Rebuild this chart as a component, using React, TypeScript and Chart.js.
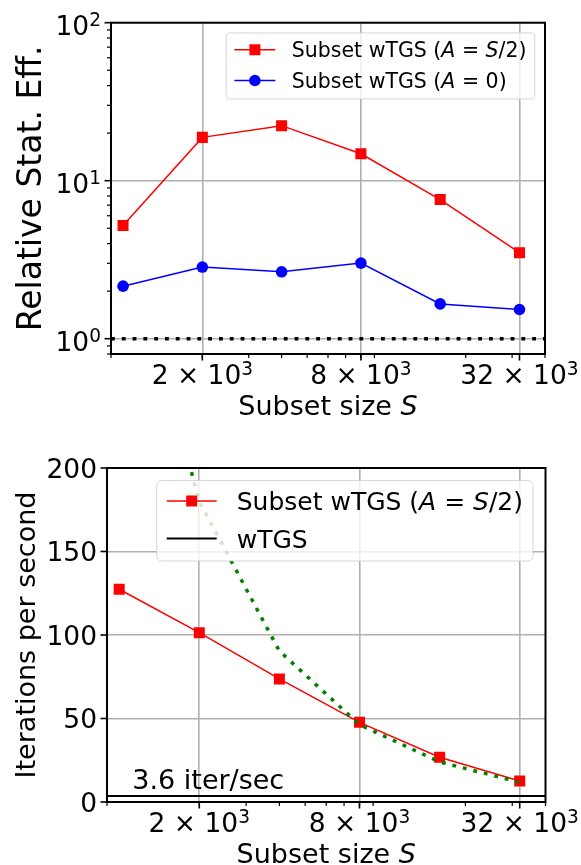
import React, { useEffect, useRef } from "react";
import { Chart, registerables } from "chart.js";

Chart.register(...registerables);

const FONT = "'DejaVu Sans', Verdana, sans-serif";

// ---------- data ----------
const SUBSET_SIZES = [1000, 2000, 4000, 8000, 16000, 32000];
const EFF_SUBSET_HALF = [5.2, 18.8, 22.3, 14.8, 7.6, 3.5];
const EFF_SUBSET_ZERO = [2.15, 2.84, 2.65, 3.01, 1.66, 1.53];
const EFF_REFERENCE = 1;
const ITERS_SUBSET_HALF = [127.4, 101.4, 73.7, 47.7, 26.8, 12.6];
const ITERS_TREND = [360, 180, 90.4, 46.3, 24, 11.8];
const ITERS_WTGS = 3.6;

const X_LIMITS = [900, 40000];
const EFF_LIMITS = [0.8, 100];
const ITER_LIMITS = [0, 200];

// tick labels as [base, superscript]
const X_TICKS = [2000, 8000, 32000];
const X_TICK_LABELS: [string, string][] = [["2 × 10", "3"], ["8 × 10", "3"], ["32 × 10", "3"]];
const X_MINOR_TICKS = [900, 2000, 3000, 4000, 5000, 6000, 7000, 8000, 9000, 20000, 30000, 40000];
const EFF_TICKS = [1, 10, 100];
const EFF_TICK_LABELS: [string, string][] = [["10", "0"], ["10", "1"], ["10", "2"]];
const EFF_MINOR_TICKS = [0.8, 0.9, 2, 3, 4, 5, 6, 7, 8, 9, 20, 30, 40, 50, 60, 70, 80, 90];
const ITER_TICKS = [0, 50, 100, 150, 200];
const ITER_TICK_LABELS: [string, string][] = [["0", ""], ["50", ""], ["100", ""], ["150", ""], ["200", ""]];

const ANNOTATION_TEXT = "3.6 iter/sec";
const ANNOTATION_POS = [1120, 7.8];

type Seg = [string, boolean];
const LABEL_HALF: Seg[] = [["Subset wTGS (", false], ["A", true], [" = ", false], ["S", true], ["/2)", false]];
const LABEL_ZERO: Seg[] = [["Subset wTGS (", false], ["A", true], [" = 0)", false]];
const LABEL_WTGS: Seg[] = [["wTGS", false]];
const X_TITLE: Seg[] = [["Subset size ", false], ["S", true]];
const Y_TITLE_TOP: Seg[] = [["Relative Stat. Eff.", false]];
const Y_TITLE_BOTTOM: Seg[] = [["Iterations per second", false]];

// ---------- styles ----------
const RED = "#ff0000";
const BLUE = "#0000ff";
const GREEN = "#008000";
const GRID = "#b0b0b0";
const TICK_FONT = 26.5;

type LegendRow = { segs: Seg[]; color: string; marker: "rect" | "circle" | null; lineWidth: number };

function segFont(size: number, italic: boolean) {
  return `${italic ? "italic " : ""}${size}px ${FONT}`;
}
function segsWidth(ctx: CanvasRenderingContext2D, segs: Seg[], size: number) {
  let w = 0;
  for (const [t, it] of segs) {
    ctx.font = segFont(size, it);
    w += ctx.measureText(t).width;
  }
  return w;
}
function drawSegs(ctx: CanvasRenderingContext2D, segs: Seg[], x: number, y: number, size: number) {
  ctx.textAlign = "left";
  ctx.textBaseline = "alphabetic";
  let cx = x;
  for (const [t, it] of segs) {
    ctx.font = segFont(size, it);
    ctx.fillText(t, cx, y);
    cx += ctx.measureText(t).width;
  }
}

function drawTickLabel(
  ctx: CanvasRenderingContext2D,
  label: [string, string],
  x: number,
  y: number,
  align: "center" | "right"
) {
  const f = TICK_FONT;
  const sf = 0.7 * f;
  ctx.textAlign = "left";
  ctx.textBaseline = "alphabetic";
  ctx.font = `${f}px ${FONT}`;
  const bw = ctx.measureText(label[0]).width;
  ctx.font = `${sf}px ${FONT}`;
  const sw = label[1] ? ctx.measureText(label[1]).width : 0;
  const total = bw + sw;
  const x0 = align === "center" ? x - total / 2 : x - total;
  ctx.font = `${f}px ${FONT}`;
  ctx.fillText(label[0], x0, y);
  if (label[1]) {
    ctx.font = `${sf}px ${FONT}`;
    ctx.fillText(label[1], x0 + bw, y - 0.35 * f);
  }
}

function drawMarker(ctx: CanvasRenderingContext2D, kind: "rect" | "circle", x: number, y: number, color: string) {
  ctx.fillStyle = color;
  if (kind === "rect") {
    ctx.fillRect(x - 5.5, y - 5.5, 11, 11);
  } else {
    ctx.beginPath();
    ctx.arc(x, y, 5.8, 0, Math.PI * 2);
    ctx.fill();
  }
}

type DecorCfg = {
  yMinor: number[];
  yMajor: number[];
  yLabels: [string, string][];
  yLabelShift: number;
  legendRows: LegendRow[];
  legendFont: number;
  yTitle: Seg[];
  yTitleFont: number;
  yTitleX: number;
  annotation?: boolean;
};

function makeDecor(cfg: DecorCfg) {
  return {
    id: "decor",
    afterDatasetsDraw(chart: any) {
      const ctx: CanvasRenderingContext2D = chart.ctx;
      const ca = chart.chartArea;
      const xs = chart.scales.x;
      const ys = chart.scales.y;
      ctx.save();
      ctx.strokeStyle = "#000";
      ctx.lineCap = "butt";
      const seg = (x0: number, y0: number, x1: number, y1: number, lw: number) => {
        ctx.lineWidth = lw;
        ctx.beginPath();
        ctx.moveTo(x0, y0);
        ctx.lineTo(x1, y1);
        ctx.stroke();
      };
      X_MINOR_TICKS.forEach((v) => {
        const p = xs.getPixelForValue(v);
        seg(p, ca.bottom, p, ca.bottom + 4, 1.2);
      });
      X_TICKS.forEach((v) => {
        const p = xs.getPixelForValue(v);
        seg(p, ca.bottom, p, ca.bottom + 6.5, 1.6);
      });
      cfg.yMinor.forEach((v) => {
        const p = ys.getPixelForValue(v);
        seg(ca.left, p, ca.left - 4, p, 1.2);
      });
      cfg.yMajor.forEach((v) => {
        const p = ys.getPixelForValue(v);
        seg(ca.left, p, ca.left - 6.5, p, 1.6);
      });
      ctx.lineWidth = 2;
      ctx.strokeRect(ca.left, ca.top, ca.right - ca.left, ca.bottom - ca.top);

      // tick labels, positioned through the chart's scales
      ctx.fillStyle = "#000";
      xs.ticks.forEach((t: any) => {
        const i = X_TICKS.indexOf(t.value);
        if (i >= 0) drawTickLabel(ctx, X_TICK_LABELS[i], xs.getPixelForValue(t.value), ca.bottom + 30.3, "center");
      });
      ys.ticks.forEach((t: any) => {
        const i = cfg.yMajor.indexOf(t.value);
        if (i >= 0)
          drawTickLabel(
            ctx,
            cfg.yLabels[i],
            ca.left - 10,
            ys.getPixelForValue(t.value) + 0.3645 * TICK_FONT + cfg.yLabelShift,
            "right"
          );
      });

      if (cfg.annotation) {
        ctx.font = `27px ${FONT}`;
        ctx.textAlign = "left";
        ctx.textBaseline = "alphabetic";
        ctx.fillText(ANNOTATION_TEXT, xs.getPixelForValue(ANNOTATION_POS[0]), ys.getPixelForValue(ANNOTATION_POS[1]));
      }
      ctx.restore();
    },
    afterDraw(chart: any) {
      const ctx: CanvasRenderingContext2D = chart.ctx;
      const ca = chart.chartArea;
      ctx.save();
      // legend
      const f = cfg.legendFont;
      const pad = 0.4 * f, handle = 2 * f, gap = 0.8 * f, axPad = 0.5 * f;
      let tw = 0;
      cfg.legendRows.forEach((r) => (tw = Math.max(tw, segsWidth(ctx, r.segs, f))));
      const w = pad + handle + gap + tw + pad;
      const h = 3.22 * f;
      const right = ca.right - axPad;
      const left = right - w;
      const top = ca.top + axPad;
      const rad = 0.2 * f;
      ctx.beginPath();
      ctx.moveTo(left + rad, top);
      ctx.lineTo(right - rad, top);
      ctx.arcTo(right, top, right, top + rad, rad);
      ctx.lineTo(right, top + h - rad);
      ctx.arcTo(right, top + h, right - rad, top + h, rad);
      ctx.lineTo(left + rad, top + h);
      ctx.arcTo(left, top + h, left, top + h - rad, rad);
      ctx.lineTo(left, top + rad);
      ctx.arcTo(left, top, left + rad, top, rad);
      ctx.closePath();
      ctx.fillStyle = "rgba(255,255,255,0.8)";
      ctx.fill();
      ctx.strokeStyle = "rgba(204,204,204,0.8)";
      ctx.lineWidth = 1;
      ctx.stroke();
      cfg.legendRows.forEach((r, i) => {
        const cy = top + 0.82 * f + i * 1.5 * f;
        const x0 = left + pad;
        ctx.strokeStyle = r.color;
        ctx.lineWidth = r.lineWidth;
        ctx.beginPath();
        ctx.moveTo(x0, cy);
        ctx.lineTo(x0 + handle, cy);
        ctx.stroke();
        if (r.marker) drawMarker(ctx, r.marker, x0 + handle / 2, cy, r.color);
        ctx.fillStyle = "#000";
        drawSegs(ctx, r.segs, x0 + handle + gap, cy + 0.365 * f, f);
      });

      // x title
      ctx.fillStyle = "#000";
      const xw = segsWidth(ctx, X_TITLE, 27);
      drawSegs(ctx, X_TITLE, (ca.left + ca.right) / 2 - xw / 2, ca.bottom + 60.5, 27);

      // y title
      const yw = segsWidth(ctx, cfg.yTitle, cfg.yTitleFont);
      ctx.translate(cfg.yTitleX, (ca.top + ca.bottom) / 2);
      ctx.rotate(-Math.PI / 2);
      drawSegs(ctx, cfg.yTitle, -yw / 2, 0, cfg.yTitleFont);
      ctx.restore();
    },
  };
}

function xScale(axisHeight: number) {
  return {
    type: "logarithmic",
    min: X_LIMITS[0],
    max: X_LIMITS[1],
    afterBuildTicks: (s: any) => {
      s.ticks = X_TICKS.map((v) => ({ value: v }));
    },
    afterFit: (s: any) => {
      s.height = axisHeight;
      s.paddingLeft = 0;
      s.paddingRight = 0;
    },
    ticks: { display: false },
    grid: { color: GRID, lineWidth: 1.6, drawTicks: false },
    border: { display: false },
  };
}

function yScaleBase(axisWidth: number, ticks: number[]) {
  return {
    afterBuildTicks: (s: any) => {
      s.ticks = ticks.map((v) => ({ value: v }));
    },
    afterFit: (s: any) => {
      s.width = axisWidth;
      s.paddingTop = 0;
      s.paddingBottom = 0;
    },
    ticks: { display: false },
    grid: { color: GRID, lineWidth: 1.6, drawTicks: false },
    border: { display: false },
  };
}

const pts = (ys: number[]) => SUBSET_SIZES.map((x, i) => ({ x, y: ys[i] }));
const hline = (y: number) => [
  { x: X_LIMITS[0], y },
  { x: X_LIMITS[1], y },
];

function buildTop(): any {
  return {
    type: "line",
    data: {
      datasets: [
        {
          data: pts(EFF_SUBSET_HALF),
          borderColor: RED,
          backgroundColor: RED,
          borderWidth: 1.5,
          pointStyle: "rect",
          pointRadius: 7.8,
          pointBorderWidth: 0,
          order: 2,
        },
        {
          data: pts(EFF_SUBSET_ZERO),
          borderColor: BLUE,
          backgroundColor: BLUE,
          borderWidth: 1.5,
          pointStyle: "circle",
          pointRadius: 5.8,
          pointBorderWidth: 0,
          order: 1,
        },
        {
          data: hline(EFF_REFERENCE),
          borderColor: "#000",
          borderWidth: 3.5,
          borderDash: [3.8, 7],
          borderCapStyle: "butt",
          pointRadius: 0,
          order: 0,
        },
      ],
    },
    options: {
      responsive: false,
      animation: false,
      events: [],
      layout: { padding: { top: 22.7, right: 36, bottom: 0, left: 0 }, autoPadding: false },
      plugins: { legend: { display: false }, tooltip: { enabled: false } },
      scales: {
        x: xScale(66),
        y: { type: "logarithmic", min: EFF_LIMITS[0], max: EFF_LIMITS[1], ...yScaleBase(111, EFF_TICKS) },
      },
    },
    plugins: [
      makeDecor({
        yMinor: EFF_MINOR_TICKS,
        yMajor: EFF_TICKS,
        yLabels: EFF_TICK_LABELS,
        yLabelShift: 3,
        legendRows: [
          { segs: LABEL_HALF, color: RED, marker: "rect", lineWidth: 1.5 },
          { segs: LABEL_ZERO, color: BLUE, marker: "circle", lineWidth: 1.5 },
        ],
        legendFont: 20.5,
        yTitle: Y_TITLE_TOP,
        yTitleFont: 33,
        yTitleX: 41,
      }),
    ],
  };
}

function buildBottom(): any {
  return {
    type: "line",
    data: {
      datasets: [
        {
          data: pts(ITERS_SUBSET_HALF),
          borderColor: RED,
          backgroundColor: RED,
          borderWidth: 1.5,
          pointStyle: "rect",
          pointRadius: 7.8,
          pointBorderWidth: 0,
          order: 2,
        },
        {
          data: hline(ITERS_WTGS),
          borderColor: "#000",
          borderWidth: 2,
          pointRadius: 0,
          order: 1,
        },
        {
          data: pts(ITERS_TREND),
          borderColor: GREEN,
          borderWidth: 3.5,
          borderDash: [3.8, 7],
          borderCapStyle: "butt",
          pointRadius: 0,
          order: 0,
        },
      ],
    },
    options: {
      responsive: false,
      animation: false,
      events: [],
      layout: { padding: { top: 48, right: 35.5, bottom: 0, left: 0 }, autoPadding: false },
      plugins: { legend: { display: false }, tooltip: { enabled: false } },
      scales: {
        x: xScale(63),
        y: { type: "linear", min: ITER_LIMITS[0], max: ITER_LIMITS[1], ...yScaleBase(107, ITER_TICKS) },
      },
    },
    plugins: [
      makeDecor({
        yMinor: [],
        yMajor: ITER_TICKS,
        yLabels: ITER_TICK_LABELS,
        yLabelShift: 0,
        legendRows: [
          { segs: LABEL_HALF, color: RED, marker: "rect", lineWidth: 1.5 },
          { segs: LABEL_WTGS, color: "#000", marker: null, lineWidth: 2 },
        ],
        legendFont: 25,
        yTitle: Y_TITLE_BOTTOM,
        yTitleFont: 27,
        yTitleX: 35.4,
        annotation: true,
      }),
    ],
  };
}

function PlotCanvas({ width, height, build }: { width: number; height: number; build: () => any }) {
  const ref = useRef<HTMLCanvasElement>(null);
  useEffect(() => {
    const chart = new Chart(ref.current as HTMLCanvasElement, build());
    return () => chart.destroy();
  }, []);
  return <canvas ref={ref} width={width} height={height} style={{ display: "block", width, height }} />;
}

export default function App() {
  return (
    <div style={{ position: "absolute", left: 0, top: 0, width: 581, height: 865, background: "#fff" }}>
      <PlotCanvas width={581} height={420} build={buildTop} />
      <PlotCanvas width={581} height={445} build={buildBottom} />
    </div>
  );
}
